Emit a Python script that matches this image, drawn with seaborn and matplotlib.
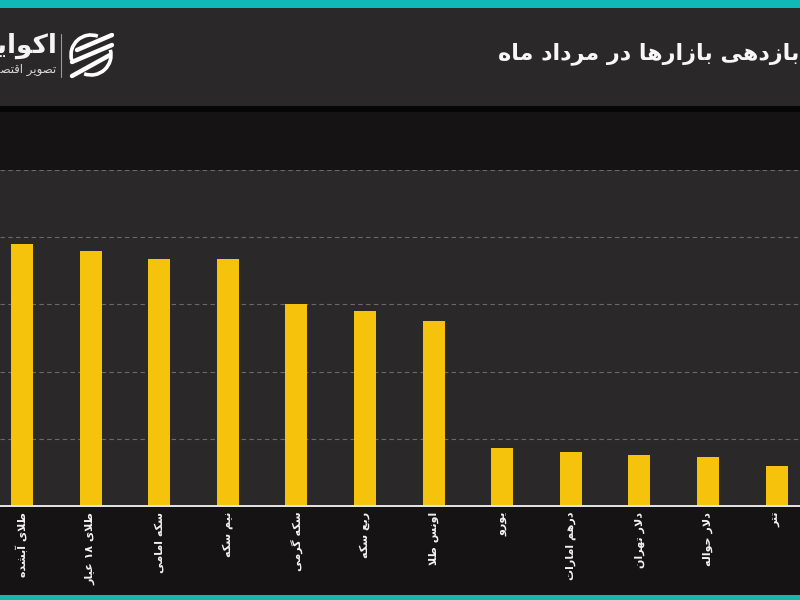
import matplotlib
matplotlib.use("Agg")
import matplotlib.pyplot as plt
from matplotlib.patches import Rectangle, Arc
from matplotlib.lines import Line2D
import pandas as pd
import seaborn as sns

title_text = "بازدهی بازارها در مرداد ماه"
brand_text = "اکوایران"
brand_sub = "تصویر اقتصاد ایران"
categories = ["طلای آبشده", "طلای ۱۸ عیار", "سکه امامی", "نیم سکه", "سکه گرمی", "ربع سکه",
              "اونس طلا", "یورو", "درهم امارات", "دلار تهران", "دلار حواله", "تتر"]
returns = [19.5, 18.95, 18.4, 18.35, 15.0, 14.5, 13.8, 4.3, 4.05, 3.8, 3.65, 3.0]

# isolated, final, initial, medial presentation forms
FORMS = {
    "ا": (0xFE8D, 0xFE8E), "آ": (0xFE81, 0xFE82), "د": (0xFEA9, 0xFEAA), "ذ": (0xFEAB, 0xFEAC),
    "ر": (0xFEAD, 0xFEAE), "ز": (0xFEAF, 0xFEB0), "و": (0xFEED, 0xFEEE),
    "ب": (0xFE8F, 0xFE90, 0xFE91, 0xFE92), "پ": (0xFB56, 0xFB57, 0xFB58, 0xFB59),
    "ت": (0xFE95, 0xFE96, 0xFE97, 0xFE98), "ج": (0xFE9D, 0xFE9E, 0xFE9F, 0xFEA0),
    "ح": (0xFEA1, 0xFEA2, 0xFEA3, 0xFEA4), "خ": (0xFEA5, 0xFEA6, 0xFEA7, 0xFEA8),
    "س": (0xFEB1, 0xFEB2, 0xFEB3, 0xFEB4), "ش": (0xFEB5, 0xFEB6, 0xFEB7, 0xFEB8),
    "ص": (0xFEB9, 0xFEBA, 0xFEBB, 0xFEBC), "ط": (0xFEC1, 0xFEC2, 0xFEC3, 0xFEC4),
    "ع": (0xFEC9, 0xFECA, 0xFECB, 0xFECC), "ق": (0xFED5, 0xFED6, 0xFED7, 0xFED8),
    "ک": (0xFB8E, 0xFB8F, 0xFB90, 0xFB91), "گ": (0xFB92, 0xFB93, 0xFB94, 0xFB95),
    "ل": (0xFEDD, 0xFEDE, 0xFEDF, 0xFEE0), "م": (0xFEE1, 0xFEE2, 0xFEE3, 0xFEE4),
    "ن": (0xFEE5, 0xFEE6, 0xFEE7, 0xFEE8), "ه": (0xFEE9, 0xFEEA, 0xFEEB, 0xFEEC),
    "ی": (0xFBFC, 0xFBFD, 0xFBFE, 0xFBFF),
}


def shape(text):
    """Join Persian letters and lay them out in visual order for matplotlib."""
    out = []
    joined = False
    i = 0
    while i < len(text):
        c = text[i]
        if c not in FORMS:
            out.append(c)
            joined = False
            i += 1
            continue
        if c == "ل" and i + 1 < len(text) and text[i + 1] == "ا":
            out.append(chr(0xFEFC if joined else 0xFEFB))
            joined = False
            i += 2
            continue
        forms = FORMS[c]
        nxt = text[i + 1] if i + 1 < len(text) else ""
        can_next = len(forms) == 4 and nxt in FORMS
        if joined and can_next:
            out.append(chr(forms[3]))
        elif joined:
            out.append(chr(forms[1]))
        elif can_next:
            out.append(chr(forms[2]))
        else:
            out.append(chr(forms[0]))
        joined = can_next
        i += 1
    # reverse, but keep digit runs left to right
    rev = []
    j = len(out) - 1
    while j >= 0:
        if out[j].isdigit():
            k = j
            while k >= 0 and out[k].isdigit():
                k -= 1
            rev.extend(out[k + 1:j + 1])
            j = k
        else:
            rev.append(out[j])
            j -= 1
    return "".join(rev)


PANEL = "#2a2829"
DARK = "#151314"
TEAL = "#12b8b5"

sns.set_theme(style="dark", rc={"font.family": ["DejaVu Sans"]})
fig = plt.figure(figsize=(8, 6), dpi=100, facecolor=DARK)
W, H = 800, 600


def band(top, bottom, color):
    fig.add_artist(Rectangle((0, 1 - bottom / H), 1, (bottom - top) / H,
                             transform=fig.transFigure, facecolor=color, edgecolor="none", zorder=0))


band(0, 8, TEAL)
band(8, 106, PANEL)
band(106, 112, "#070606")
band(595, 600, TEAL)

ax = fig.add_axes([0, 1 - 506 / H, 1, 336 / H], facecolor=PANEL, zorder=1)
df = pd.DataFrame({"market": [shape(c) for c in categories], "ret": returns})
sns.barplot(data=df, x="market", y="ret", color="#f5c30c", saturation=1, width=0.32, ax=ax,
            zorder=3, edgecolor="none", linewidth=0)
ax.set_xlim(-0.32, 11.34)
ax.set_ylim(0, 25)
ax.set_yticks([0, 5, 10, 15, 20, 25])
ax.set_yticklabels([])
ax.set_xlabel("")
ax.set_ylabel("")
ax.grid(True, axis="y", color="#6b696a", linestyle=(0, (4, 3)), linewidth=0.8)
ax.grid(False, axis="x")
ax.set_axisbelow(True)
for s in ["left", "right", "top"]:
    ax.spines[s].set_visible(False)
ax.spines["bottom"].set_color("#e6e6e6")
ax.spines["bottom"].set_linewidth(1.4)
ax.spines["bottom"].set_zorder(5)
ax.tick_params(axis="x", length=0, pad=4, labelsize=8, labelcolor="#f2f2f2", labelrotation=90)
ax.tick_params(axis="y", length=0)
for t in ax.get_xticklabels():
    t.set_fontweight("bold")
    t.set_verticalalignment("top")
    t.set_horizontalalignment("center")

# header texts
fig.text(498 / W, 1 - 54 / H, shape(title_text), color="#f7f7f7", fontsize=16, fontweight="bold",
         ha="left", va="center", zorder=3)
fig.text(57 / W, 1 - 46 / H, shape(brand_text), color="#f4f4f4", fontsize=19, fontweight="bold",
         ha="right", va="center", zorder=3)
fig.text(56 / W, 1 - 70 / H, shape(brand_sub), color="#d8d8d8", fontsize=8.5,
         ha="right", va="center", zorder=3)

# logo
fig.add_artist(Line2D([61 / W, 61 / W], [1 - 34 / H, 1 - 77 / H], color="#9a9a9a", linewidth=0.8, zorder=3))
logo = fig.add_axes([68 / W, 1 - 79 / H, 46 / W, 46 / H], zorder=3)
logo.set_xlim(0, 46)
logo.set_ylim(46, 0)
logo.axis("off")
logo.add_patch(Arc((23, 22), 40, 40, theta1=165, theta2=290, color="white", linewidth=2.6))
logo.add_patch(Arc((23, 22), 40, 40, theta1=345, theta2=110, color="white", linewidth=2.6))
for x0, y0, x1, y1 in [(9, 17, 44, 2), (4, 29, 44, 12), (4, 43, 42, 22)]:
    logo.plot([x0, x1], [y0, y1], color="white", linewidth=3.2, solid_capstyle="round")

fig.savefig("out.png", dpi=100, facecolor=fig.get_facecolor())
